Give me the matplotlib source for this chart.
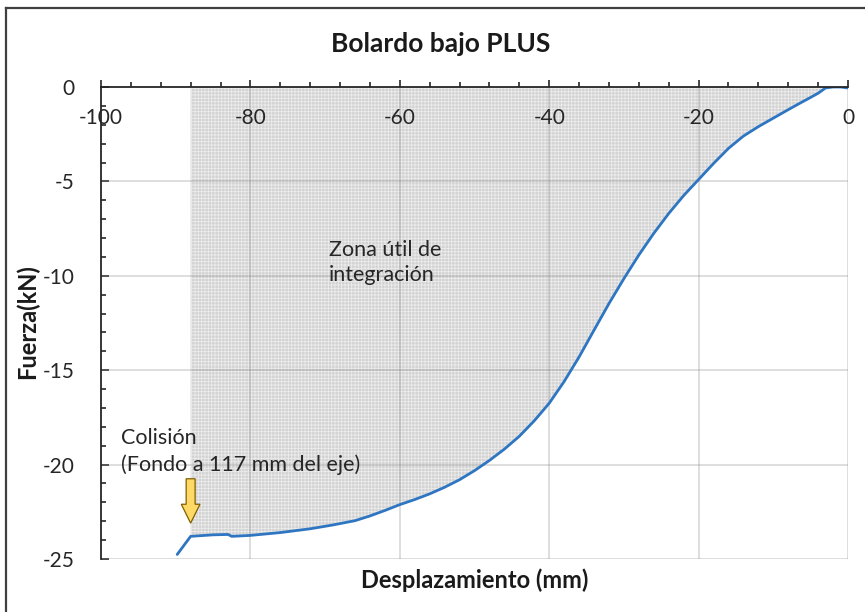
import matplotlib
matplotlib.use("Agg")
import matplotlib.pyplot as plt
import numpy as np
from matplotlib.lines import Line2D
from matplotlib.patches import FancyArrow

plt.rcParams['font.family'] = ['Lato', 'DejaVu Sans']
plt.rcParams['hatch.linewidth'] = 0.6

# Data
disp = [-89.8, -88.0, -85, -83, -82.5, -80, -76, -72, -69, -66, -64, -62, -60, -58, -56,
        -54, -52, -50, -48, -46, -44, -42, -40, -38, -36, -34, -32, -30, -28, -26, -24,
        -22, -20, -18, -16, -14, -12, -10, -8, -6.4, -5, -4, -3, -2, -1, 0]
force = [-24.76, -23.8, -23.72, -23.7, -23.8, -23.75, -23.6, -23.4, -23.2, -22.97, -22.72,
         -22.43, -22.12, -21.85, -21.55, -21.2, -20.8, -20.32, -19.78, -19.18, -18.5, -17.68,
         -16.75, -15.6, -14.3, -12.88, -11.47, -10.15, -8.9, -7.75, -6.7, -5.75, -4.9,
         -4.05, -3.25, -2.6, -2.1, -1.65, -1.2, -0.85, -0.55, -0.33, -0.05, 0.0, 0.0,
         -0.05]
zone_start = -88
x_ticks = [-100, -80, -60, -40, -20, 0]
y_ticks = [0, -5, -10, -15, -20, -25]

disp = np.array(disp)
force = np.array(force)

fig = plt.figure(figsize=(8.65, 6.12), dpi=100)
ax = fig.add_axes([101/865, 1-559/612, 747/865, 472/612])
ax.set_xlim(-100, 0)
ax.set_ylim(-25, 0)

# shaded zone
xs = np.concatenate([[zone_start], disp[disp > zone_start]])
ys = np.interp(xs, disp, force)
ax.fill_between(xs, ys, 0, facecolor='#d2d2d2', edgecolor='#ececec', hatch='+++++',
                linewidth=0, zorder=1)

# grid
for xv in x_ticks[1:]:
    ax.axvline(xv, color='#7f7f7f', alpha=0.3, lw=1.2, zorder=2)
for yv in y_ticks[1:]:
    ax.axhline(yv, color='#7f7f7f', alpha=0.3, lw=1.2, zorder=2)

ax.plot(disp, force, color='#2E75C2', lw=2.0, zorder=4, solid_capstyle='round',
        solid_joinstyle='round')

# spines
for s in ['bottom', 'right']:
    ax.spines[s].set_visible(False)
for s in ['top', 'left']:
    ax.spines[s].set_color('#262626')
    ax.spines[s].set_linewidth(1.3)
    ax.spines[s].set_zorder(5)

ax.xaxis.set_ticks_position('top')
ax.set_xticks(x_ticks)
ax.set_xticks(np.arange(-100, 1, 4), minor=True)
ax.tick_params(axis='x', which='major', direction='out', length=5, width=1.2, color='#262626',
               labeltop=False, labelbottom=False)
ax.tick_params(axis='x', which='minor', direction='out', length=3.5, width=1.2, color='#262626')
for xv in x_ticks:
    ax.text(xv, -1.62, str(xv), ha='center', va='center', fontsize=15, color='#262626', zorder=6)

ax.set_yticks(y_ticks)
ax.set_yticks(np.arange(-25, 0.5, 1), minor=True)
ax.set_yticklabels([str(v) for v in y_ticks])
ax.tick_params(axis='y', which='major', direction='in', length=6, width=1.2, color='#262626',
               labelsize=15, labelcolor='#262626', pad=19)
ax.tick_params(axis='y', which='minor', direction='in', length=3.5, width=1.2, color='#262626')

# annotations
ax.text(-69.5, -9.3, 'Zona útil de\nintegración', fontsize=15.5, color='#262626',
        va='center', ha='left', linespacing=1.35)
ax.text(-97.3, -19.3, 'Colisión\n(Fondo a 117 mm del eje)', fontsize=15.5, color='#262626',
        va='center', ha='left', linespacing=1.35)
ax.add_patch(FancyArrow(-88, -20.75, 0, -2.35, width=1.2, head_width=2.5, head_length=1.0,
                        length_includes_head=True, fc='#FFD966', ec='#7f6000', lw=0.9,
                        zorder=6))

fig.text(441/865, 1-44/612, 'Bolardo bajo PLUS', ha='center', va='center',
         fontsize=19, fontweight='bold', color='#1a1a1a')
fig.text(475/865, 1-580/612, 'Desplazamiento (mm)', ha='center', va='center',
         fontsize=17, fontweight='bold', color='#1a1a1a')
fig.text(27/865, 1-322/612, 'Fuerza(kN)', ha='center', va='center', rotation=90,
         fontsize=17, fontweight='bold', color='#1a1a1a')

# outer frame (top and left)
fig.add_artist(Line2D([6/865, 1], [1-8/612, 1-8/612], color='#404040', lw=1.6))
fig.add_artist(Line2D([6/865, 6/865], [0, 1-8/612], color='#404040', lw=1.6))

fig.savefig('out.png', dpi=100)
